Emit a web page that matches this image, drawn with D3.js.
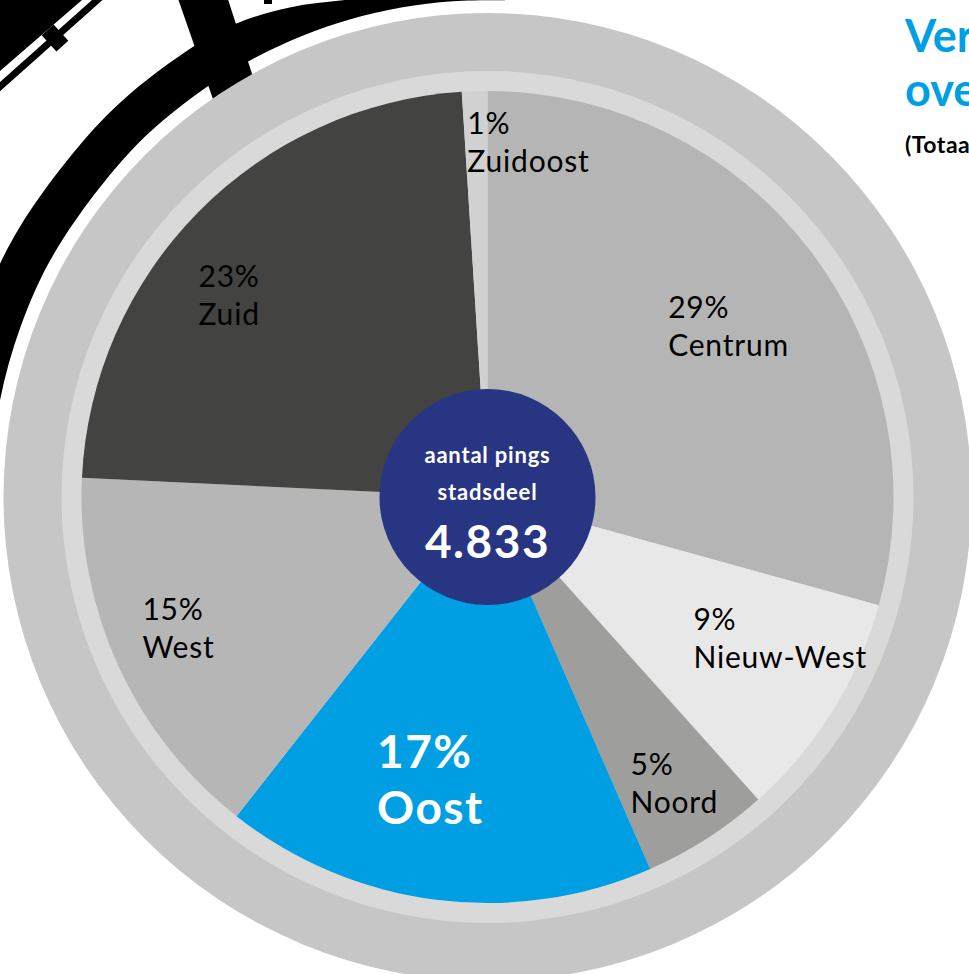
<!DOCTYPE html>
<html lang="nl">
<head>
<meta charset="utf-8">
<title>Verdeling pings over stadsdelen</title>
<script src="https://cdn.jsdelivr.net/npm/d3@7/dist/d3.min.js"></script>
<style>
  html, body { margin: 0; padding: 0; background: #ffffff; overflow: hidden; }
  svg { display: block; }
  text { font-family: Lato, "Open Sans", sans-serif; }
</style>
</head>
<body>
<svg id="chart" width="969" height="974"></svg>
<script>
// Share of pings per stadsdeel, clockwise from 12 o'clock
const districts = ["Centrum", "Nieuw-West", "Noord", "Oost", "West", "Zuid", "Zuidoost"];
const shares = [29, 9, 5, 17, 15, 23, 1];

// Centre badge
const badgeLines = ["aantal pings", "stadsdeel"];
const totalPings = "4.833";

// Heading (runs off the right edge)
const titleLines = ["Verdeling pings", "over stadsdelen"];
const subtitle = "(Totaal aantal pings: 4.833)";

// Styling
const sliceColors = {
  "Centrum": "#b5b5b5",
  "Nieuw-West": "#e8e8e8",
  "Noord": "#9e9e9d",
  "Oost": "#009fe3",
  "West": "#b6b6b6",
  "Zuid": "#434342",
  "Zuidoost": "#d1d1d1"
};
const highlight = "Oost";
const blue = "#009fe3";
const navy = "#283583";

// Label offsets from the slice centroid (left edge, first baseline)
const labelNudge = {
  "Centrum": [-74, 15],
  "Nieuw-West": [-66, -36],
  "Noord": [-30, 9],
  "Oost": [-70, -46],
  "West": [-54, -10],
  "Zuid": [-61, 14],
  "Zuidoost": [-10, -43]
};

const svg = d3.select("#chart");
const cx = 487.5, cy = 497;
const R = 406;          // pie radius
const rInnerRing = 426; // light band outer edge
const rOuterRing = 484; // grey rim outer edge
const rad = Math.PI / 180;

// ---- background map fragment (ring road and side streets) ----
const map = svg.append("g").attr("fill", "#000");

// ring road: inner edge follows the rim, outer edge narrows toward the top
const roadOuter = [[-99, 541], [-90, 541], [-80, 540], [-70, 540], [-60, 540], [-45, 539],
                   [-34, 538], [-28, 536], [-22, 528], [-16, 517], [-10, 509], [-4, 503], [2, 500]];
const roadArea = d3.areaRadial()
  .angle(d => d[0] * rad)
  .innerRadius(497)
  .outerRadius(d => d[1])
  .curve(d3.curveCatmullRom);
map.append("path")
  .attr("transform", `translate(${cx},${cy})`)
  .attr("d", roadArea(roadOuter));

// crossing street
map.append("polygon").attr("points", [[175, -10], [225, -10], [254, 80], [214, 102]].map(p => p.join(",")).join(" "));
// small mark at the top edge
map.append("rect").attr("x", 264).attr("y", -4).attr("width", 8).attr("height", 8);
// corner block and thin parallel street with a knob
map.append("polygon").attr("points", "0,0 82,0 0,71");
map.append("line")
  .attr("x1", -6).attr("y1", 92).attr("x2", 104).attr("y2", -6)
  .attr("stroke", "#000").attr("stroke-width", 7);
map.append("rect")
  .attr("x", -8).attr("y", -11).attr("width", 16).attr("height", 22)
  .attr("transform", "translate(55,38) rotate(-42)");

// ---- rims ----
const g = svg.append("g").attr("transform", `translate(${cx},${cy})`);
g.append("circle").attr("r", rOuterRing).attr("fill", "#c6c6c6");
g.append("circle").attr("r", rInnerRing).attr("fill", "#d9d9d9");

// ---- pie ----
const pie = d3.pie().sort(null).value(d => d.share);
const data = districts.map((name, i) => ({ name, share: shares[i] }));
const arcs = pie(data);
const arc = d3.arc().innerRadius(0).outerRadius(R);
const labelArc = d3.arc().innerRadius(320).outerRadius(320);

g.selectAll("path.slice")
  .data(arcs)
  .join("path")
  .attr("class", "slice")
  .attr("d", arc)
  .attr("fill", d => sliceColors[d.data.name]);

// ---- slice labels ----
const labels = g.selectAll("g.label")
  .data(arcs)
  .join("g")
  .attr("class", "label")
  .attr("transform", d => {
    const [x, y] = labelArc.centroid(d);
    const [dx, dy] = labelNudge[d.data.name];
    return `translate(${x + dx},${y + dy})`;
  });

labels.each(function (d) {
  const big = d.data.name === highlight;
  const sel = d3.select(this);
  const fs = big ? 46 : 30;
  const gap = big ? 56 : 38;
  const common = s => s
    .attr("fill", big ? "#ffffff" : "#000000")
    .attr("font-size", fs)
    .attr("font-weight", big ? 700 : 400)
    .attr("letter-spacing", big ? 1.5 : 0.8);
  sel.append("text").attr("x", 0).attr("y", 0).text(`${d.data.share}%`).call(common);
  sel.append("text").attr("x", 0).attr("y", gap).text(d.data.name).call(common);
});

// ---- centre badge ----
g.append("circle").attr("r", 108).attr("fill", navy);
g.append("text").attr("text-anchor", "middle").attr("y", -34)
  .attr("fill", "#fff").attr("font-size", 22).attr("font-weight", 700).attr("letter-spacing", 0.8)
  .text(badgeLines[0]);
g.append("text").attr("text-anchor", "middle").attr("y", 3)
  .attr("fill", "#fff").attr("font-size", 22).attr("font-weight", 700).attr("letter-spacing", 0.8)
  .text(badgeLines[1]);
g.append("text").attr("text-anchor", "middle").attr("y", 61)
  .attr("fill", "#fff").attr("font-size", 46).attr("font-weight", 700).attr("letter-spacing", 1.5)
  .text(totalPings);

// ---- heading ----
const head = svg.append("g").attr("transform", "translate(905,0)");
head.append("text").attr("y", 52).attr("fill", blue).attr("font-size", 45).attr("font-weight", 700).text(titleLines[0]);
head.append("text").attr("y", 106).attr("fill", blue).attr("font-size", 45).attr("font-weight", 700).text(titleLines[1]);
head.append("text").attr("y", 153).attr("fill", "#000").attr("font-size", 23).attr("font-weight", 700).attr("letter-spacing", 0.5).text(subtitle);
</script>
</body>
</html>
